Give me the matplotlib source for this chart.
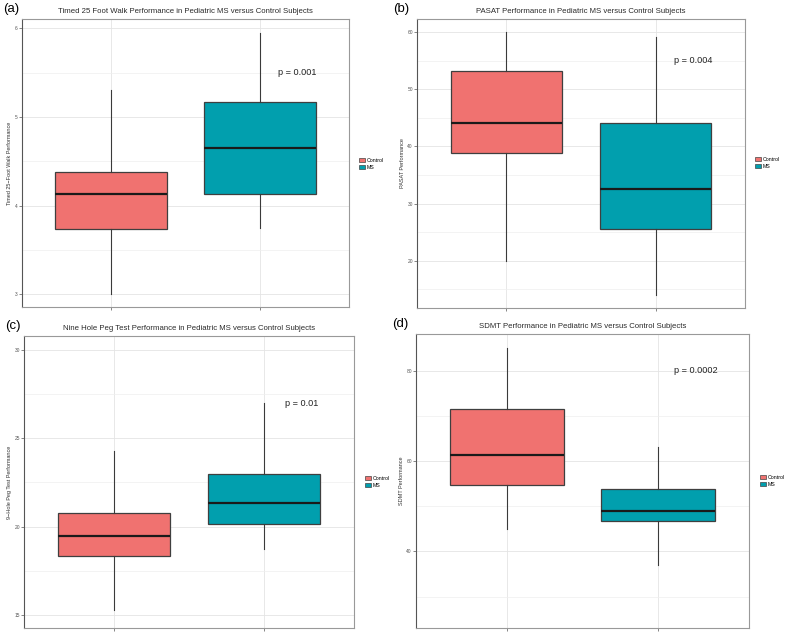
import matplotlib.pyplot as plt
from matplotlib.patches import Patch

plt.rcParams['font.family'] = ['Liberation Sans', 'DejaVu Sans']

groups = ['Control', 'MS']
colors = ['#F07270', '#019FAE']

# box stats per group: whisker low, Q1, median, Q3, whisker high
walk_control = [3.00, 3.74, 4.13, 4.38, 5.30]
walk_ms = [3.75, 4.13, 4.65, 5.17, 5.95]
pasat_control = [20.0, 38.8, 44.0, 53.1, 60.0]
pasat_ms = [14.0, 25.5, 32.5, 44.0, 59.1]
peg_control = [15.3, 18.35, 19.45, 20.75, 24.27]
peg_ms = [18.76, 20.13, 21.32, 23.0, 27.0]
sdmt_control = [44.9, 54.8, 61.4, 71.4, 85.1]
sdmt_ms = [36.9, 46.7, 49.0, 53.9, 63.1]

p_values = ['p = 0.001', 'p = 0.004', 'p = 0.01', 'p = 0.0002']
p_y = [5.5, 55.0, 26.95, 80.0]

titles = ['Timed 25 Foot Walk Performance in Pediatric MS versus Control Subjects',
          'PASAT Performance in Pediatric MS versus Control Subjects',
          'Nine Hole Peg Test Performance in Pediatric MS versus Control Subjects',
          'SDMT Performance in Pediatric MS versus Control Subjects']
ylabels = ['Timed 25\u2212Foot Walk Performance', 'PASAT Performance',
           '9\u2212Hole Peg Test Performance', 'SDMT Performance']
panel_tags = ['(a)', '(b)', '(c)', '(d)']

W, H = 785, 633
fig = plt.figure(figsize=(W / 100, H / 100), dpi=100)

# pixel boxes: left, right, top, bottom
boxes = [(22, 349, 19, 307), (417, 745, 19, 308), (24, 354, 336, 628), (416, 749, 334, 628)]
ylims = [(2.857, 6.105), (11.74, 62.27), (14.27, 30.77), (23.05, 88.1)]
majors = [[3, 4, 5, 6], [20, 30, 40, 50, 60], [15, 20, 25, 30], [40, 60, 80]]
minors = [[3.5, 4.5, 5.5], [15, 25, 35, 45, 55], [17.5, 22.5, 27.5], [30, 50, 70]]
legend_pos = [(356, 164), (752, 163), (362, 482), (757, 481)]

data = [(walk_control, walk_ms), (pasat_control, pasat_ms),
        (peg_control, peg_ms), (sdmt_control, sdmt_ms)]

for i in range(4):
    l, r, t, b = boxes[i]
    ax = fig.add_axes([l / W, 1 - b / H, (r - l) / W, (b - t) / H])
    stats = []
    for g, vals in zip(groups, data[i]):
        stats.append(dict(whislo=vals[0], q1=vals[1], med=vals[2], q3=vals[3],
                          whishi=vals[4], label=g))
    bp = ax.bxp(stats, positions=[1, 2], widths=0.75, patch_artist=True, showfliers=False,
                showcaps=False,
                whiskerprops=dict(color='#3a3a3a', lw=0.8),
                medianprops=dict(color='#1a1a1a', lw=1.6),
                boxprops=dict(lw=0.9), zorder=3)
    for patch, c in zip(bp['boxes'], colors):
        patch.set_facecolor(c)
        patch.set_edgecolor('#3f3f3f')
    ax.set_xlim(0.4, 2.6)
    ax.set_ylim(*ylims[i])
    ax.set_yticks(majors[i])
    ax.set_yticks(minors[i], minor=True)
    ax.set_xticks([1, 2])
    ax.set_xticklabels(['', ''])
    ax.grid(True, which='major', color='#e4e4e4', lw=0.6, zorder=0)
    ax.grid(True, which='minor', axis='y', color='#efefef', lw=0.5, zorder=0)
    ax.set_axisbelow(True)
    ax.tick_params(axis='both', which='major', length=2, width=0.5, color='#555555',
                   labelsize=3.5, labelcolor='#555555', pad=1)
    ax.tick_params(axis='y', which='minor', length=0)
    for s in ax.spines.values():
        s.set_color('#999999')
        s.set_linewidth(0.8)
    ax.spines['left'].set_color('#555555')
    ax.set_ylabel(ylabels[i], fontsize=4, color='#333333', labelpad=2)
    ax.set_title(titles[i], fontsize=5.6, color='#2a2a2a', pad=4)
    ax.text(2.25, p_y[i], p_values[i], fontsize=6.6, color='#222222', ha='center', va='center')
    fig.text((l - 19 if i % 2 == 0 else l - 24) / W, 1 - (t - 10) / H, panel_tags[i],
             fontsize=9.5, ha='left', va='center')
    handles = [Patch(facecolor=c, edgecolor='#444444', lw=0.5) for c in colors]
    lx, ly = legend_pos[i]
    fig.legend(handles, groups, loc='center left', bbox_to_anchor=(lx / W, 1 - ly / H),
               fontsize=3.8, frameon=False, handlelength=1.2, handleheight=0.9,
               handletextpad=0.3, labelspacing=0.4, borderpad=0)

fig.savefig('out.png', dpi=100)
